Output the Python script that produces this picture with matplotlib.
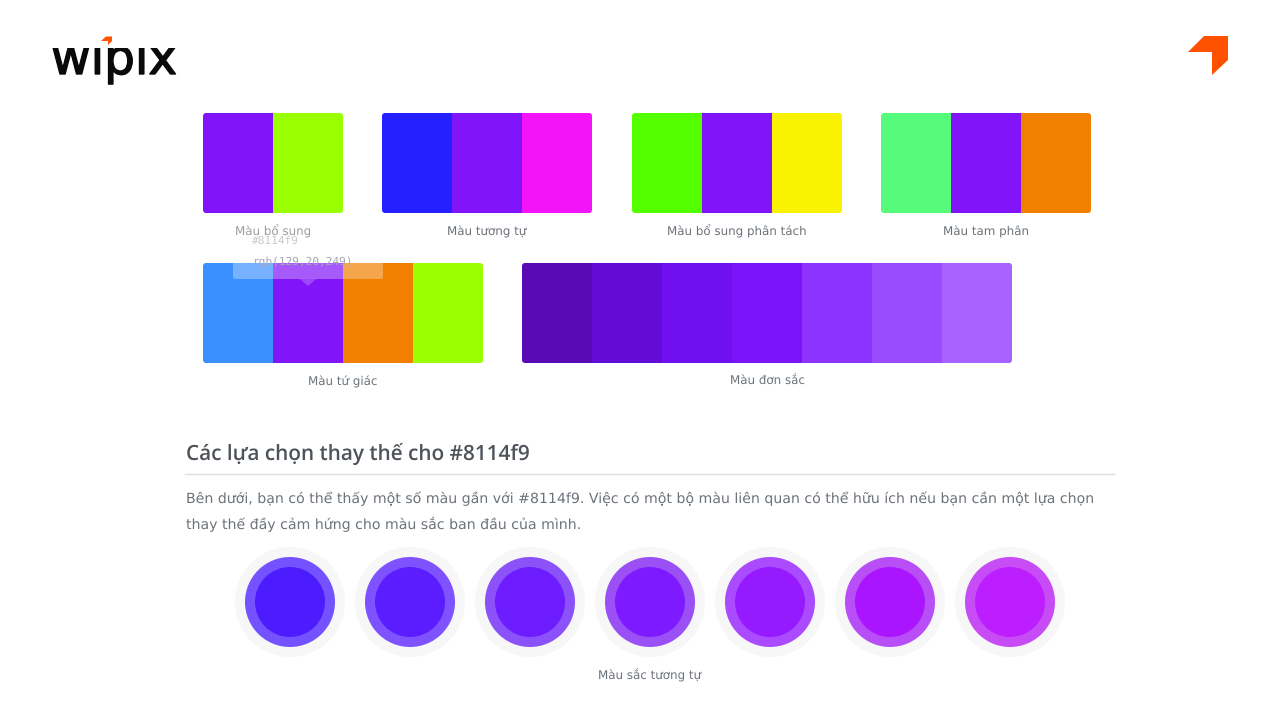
import matplotlib
matplotlib.use('Agg')
import matplotlib.pyplot as plt
import matplotlib.patheffects as pe
from matplotlib.patches import Circle, FancyBboxPatch, Polygon, Rectangle

plt.rcParams['text.hinting'] = 'none'

# swatch rows
complement_colors = ['#8114f9', '#9aff00']
analog_colors = ['#2520ff', '#8114f9', '#f314f9']
split_colors = ['#54ff00', '#8114f9', '#f9f200']
triad_colors = ['#56fb7c', '#8114f9', '#f17f00']
tetrad_colors = ['#3a90ff', '#8114f9', '#f17f00', '#9aff00']
mono_colors = ['#5a0ab5', '#620cd6', '#7010f0', '#7c14f9', '#8d33ff', '#9a4bff', '#a863ff']

swatch_labels = ['Màu bổ sung', 'Màu tương tự', 'Màu bổ sung phân tách', 'Màu tam phân',
                 'Màu tứ giác', 'Màu đơn sắc']

# similar colours, inner disc and ring
similar_inner = ['#4c1cff', '#5b1cff', '#6d1cff', '#7d1aff', '#961aff', '#aa14ff', '#bc1eff']
similar_ring = ['#7552ff', '#7f52ff', '#8c52f9', '#9b50f5', '#aa4bff', '#b84ef5', '#c84cf5']

heading = 'Các lựa chọn thay thế cho #8114f9'
body_1 = 'Bên dưới, bạn có thể thấy một số màu gần với #8114f9. Việc có một bộ màu liên quan có thể hữu ích nếu bạn cần một lựa chọn'
body_2 = 'thay thế đầy cảm hứng cho màu sắc ban đầu của mình.'
caption = 'Màu sắc tương tự'

fig = plt.figure(figsize=(12.8, 7.2), dpi=100, facecolor='white')
ax = fig.add_axes([0, 0, 1, 1])
ax.set_xlim(0, 1280)
ax.set_ylim(720, 0)
ax.axis('off')


def px(size):
    return size * 0.72


def draw_swatch(colors, x, y, label, cell=70, height=100):
    width = cell * len(colors)
    outline = FancyBboxPatch((x, y), width, height, boxstyle='round,pad=0,rounding_size=3',
                             fc='none', ec='none', zorder=1)
    ax.add_patch(outline)
    for i, c in enumerate(colors):
        r = Rectangle((x + i * cell, y), cell, height, fc=c, ec='none', zorder=2)
        ax.add_patch(r)
        r.set_clip_path(outline)
    ax.text(x + width / 2, y + 122, label, ha='center', va='baseline', fontsize=px(11.9),
            color='#6c727a', family='DejaVu Sans', zorder=3)


draw_swatch(complement_colors, 203, 113, swatch_labels[0])
draw_swatch(analog_colors, 382, 113, swatch_labels[1])
draw_swatch(split_colors, 632, 113, swatch_labels[2])
draw_swatch(triad_colors, 881, 113, swatch_labels[3])
draw_swatch(tetrad_colors, 203, 263, swatch_labels[4])
draw_swatch(mono_colors, 522, 263, swatch_labels[5])

# tooltip sitting over the first swatch rows
ax.add_patch(FancyBboxPatch((233, 222), 150, 57, boxstyle='round,pad=0,rounding_size=2',
                            fc='white', ec='none', alpha=0.3, zorder=5))
ax.add_patch(Polygon([(300, 279), (316, 279), (308, 286)], fc='white', ec='none', alpha=0.22, zorder=5))
ax.text(252, 244, '#8114f9', ha='left', va='baseline', fontsize=px(11.1), color='#c8cacd',
        family='DejaVu Sans Mono', zorder=6)
ax.text(252, 265, 'rgb(129,20,249)', ha='left', va='baseline', fontsize=px(11.1), color='#a4a8b4',
        family='DejaVu Sans Mono', zorder=6)

# section text
ax.text(185.5, 460, heading, ha='left', va='baseline', fontsize=px(20.8), color='#4d5359',
        family='Open Sans', weight='semibold')
ax.plot([185, 1114], [473.5, 473.5], color='#dcdde0', lw=1)
ax.text(185.5, 503, body_1, ha='left', va='baseline', fontsize=px(14.15), color='#6c727a', family='DejaVu Sans')
ax.text(185.5, 529, body_2, ha='left', va='baseline', fontsize=px(14.15), color='#6c727a', family='DejaVu Sans')

# similar colour discs
for i, (inner, ring) in enumerate(zip(similar_inner, similar_ring)):
    cx = 290 + i * 120
    ax.add_patch(Circle((cx, 602), 55, fc='#f7f7f8', ec='none'))
    ax.add_patch(Circle((cx, 602), 45, fc=ring, ec='none'))
    ax.add_patch(Circle((cx, 602), 35, fc=inner, ec='none'))
ax.text(650, 679, caption, ha='center', va='baseline', fontsize=px(11.9), color='#6c727a', family='DejaVu Sans')

# logo, the i dots are hidden by a white strip, the first one gets the arrow
ax.text(51, 74, 'wipix', ha='left', va='baseline', fontsize=px(48.5), color='#0a0a0a',
        family='DejaVu Sans', zorder=2,
        path_effects=[pe.withStroke(linewidth=1, foreground='#0a0a0a')])
ax.add_patch(Rectangle((48, 30), 135, 17.5, fc='white', ec='none', zorder=3))
ax.add_patch(Polygon([(101, 41), (106, 36.5), (112, 36.5), (112, 41), (108, 45), (108, 41)],
                     fc='#ff5200', ec='none', zorder=4))
ax.add_patch(Polygon([(1188, 52), (1204, 36), (1228, 36), (1228, 60), (1212, 75), (1212, 52)],
                     fc='#ff5200', ec='none'))

fig.savefig('out.png', dpi=100, facecolor='white')
